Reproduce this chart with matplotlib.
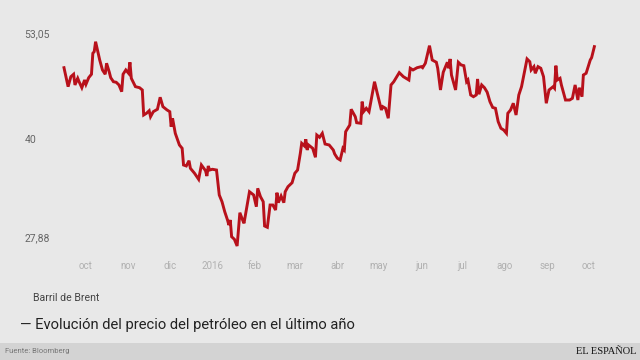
import matplotlib.pyplot as plt
import matplotlib.patches as mpatches
import pandas as pd

# Barril de Brent, dias desde el 1 de octubre de 2015 y precio en dolares
dias = [-16, -13, -11, -9, -8, -6, -5, -3, -1, 0, 2, 4, 5, 6, 7, 8, 10, 12, 14, 15,
        17, 18, 20, 22, 24, 26, 27, 29, 31, 32, 33, 36, 39, 41, 42, 44, 46, 47, 49, 52,
        54, 56, 59, 61, 62, 63, 65, 68, 70, 71, 73, 75, 76, 79, 82, 84, 87, 88, 89, 90,
        92, 95, 97, 99, 101, 103, 104, 105, 106, 108, 110, 112, 114, 115, 119, 122, 124, 125, 127, 129,
        130, 132, 134, 136, 138, 139, 140, 142, 144, 145, 147, 150, 152, 154, 156, 157, 159, 160, 161, 162,
        165, 167, 168, 170, 172, 174, 177, 180, 181, 183, 185, 187, 188, 189, 192, 193, 196, 197, 200, 201,
        202, 204, 206, 210, 212, 215, 216, 218, 220, 222, 224, 228, 231, 235, 236, 238, 241, 244, 245, 247,
        250, 252, 255, 256, 258, 260, 263, 264, 265, 266, 269, 271, 273, 275, 277, 278, 280, 282, 284, 285,
        286, 288, 290, 292, 294, 296, 298, 300, 302, 304, 306, 307, 309, 311, 313, 315, 317, 321, 323, 324,
        326, 327, 329, 331, 333, 335, 337, 340, 341, 342, 343, 345, 346, 348, 349, 352, 354, 356, 358, 359,
        361, 362, 364, 367, 368, 370]
precio = [48.80, 46.46, 47.69, 47.99, 46.67, 47.49, 47.07, 46.33, 47.28, 46.75, 47.57, 47.99, 50.58, 50.78, 52.01, 51.27, 49.75, 48.52, 47.99, 49.35,
          48.23, 47.57, 47.07, 47.00, 46.67, 45.84, 47.99, 48.52, 48.11, 49.47, 47.49, 46.46, 46.33, 46.05, 42.96, 43.17, 43.49, 42.75, 43.37, 43.67,
          45.15, 43.99, 43.58, 43.37, 41.52, 42.56, 40.70, 39.26, 38.85, 36.79, 36.67, 37.32, 36.38, 35.77, 35.02, 36.79, 36.09, 35.43, 36.67, 36.17,
          36.26, 36.17, 33.09, 32.26, 31.02, 30.00, 29.38, 30.00, 27.94, 27.62, 26.79, 30.90, 30.00, 29.59, 33.49, 33.09, 31.64, 33.91, 32.88, 32.26,
          29.26, 29.10, 31.85, 31.85, 31.23, 33.37, 32.14, 32.96, 32.14, 33.49, 34.11, 34.60, 35.77, 36.17, 38.23, 39.47, 39.14, 39.96, 38.64, 39.26,
          38.85, 37.74, 40.49, 40.21, 40.70, 39.38, 39.26, 38.64, 38.15, 37.62, 37.41, 38.85, 38.64, 40.90, 41.73, 43.67, 42.75, 42.01, 41.94, 44.61,
          43.37, 43.79, 43.37, 47.07, 45.64, 43.58, 43.99, 43.79, 42.56, 46.67, 47.07, 48.19, 47.69, 47.28, 48.73, 48.52, 48.80, 48.93, 48.80, 49.35,
          51.52, 49.75, 49.47, 48.73, 46.05, 48.23, 49.47, 48.73, 49.88, 47.90, 46.05, 49.47, 49.14, 49.05, 47.07, 47.28, 45.43, 45.22, 45.43, 47.41,
          45.52, 46.67, 46.33, 45.77, 44.61, 43.89, 43.79, 42.14, 41.32, 41.11, 40.70, 43.17, 43.58, 44.41, 42.96, 45.43, 46.46, 49.88, 49.54, 48.52,
          48.93, 48.11, 48.93, 48.73, 47.69, 44.41, 46.05, 46.46, 46.26, 49.05, 47.28, 47.49, 46.67, 45.43, 44.81, 44.81, 45.02, 46.67, 44.81, 46.33,
          45.22, 47.90, 48.11, 49.75, 50.04, 51.40]

meses = ['oct', 'nov', 'dic', '2016', 'feb', 'mar', 'abr', 'may', 'jun', 'jul', 'ago', 'sep', 'oct']
y_ticks = [27.88, 40, 53.05]
y_labels = ['27,88', '40', '53,05']

inicio = pd.Timestamp('2015-10-01')
fechas = inicio + pd.to_timedelta(dias, unit='D')
pos_meses = pd.date_range('2015-10-01', '2016-10-01', freq='MS')

fondo = '#e8e8e8'
fig = plt.figure(figsize=(6.4, 3.6), dpi=100, facecolor=fondo)
ax = fig.add_axes([60 / 640, 105 / 360, 540 / 640, 230 / 360])
ax.set_facecolor(fondo)

ax.plot(fechas, precio, color='#b8111b', lw=2.1, solid_joinstyle='miter')

ax.set_xlim(inicio + pd.Timedelta(days=-18.9), inicio + pd.Timedelta(days=374.1))
ax.set_ylim(25.68, 54.07)

ax.set_yticks(y_ticks)
ax.set_yticklabels(y_labels, fontsize=7.5, color='#666666', family=['Roboto', 'DejaVu Sans'])
for lbl in ax.get_yticklabels():
    lbl.set_horizontalalignment('left')
ax.tick_params(axis='y', length=0, pad=25.5)

ax.set_xticks(pos_meses)
ax.set_xticklabels(meses, fontsize=7, color='#b0b0b0', family=['Roboto', 'DejaVu Sans'])
ax.tick_params(axis='x', length=0, pad=4)

for s in ax.spines.values():
    s.set_visible(False)

fig.text(33 / 640, 1 - 298 / 360, 'Barril de Brent', fontsize=7.6, color='#444444',
         va='center', ha='left', family=['Roboto', 'DejaVu Sans'])
fig.text(20 / 640, 1 - 325 / 360, '— Evolución del precio del petróleo en el último año', fontsize=10.6,
         color='#222222', va='center', ha='left', family=['Roboto', 'DejaVu Sans'])

# barra inferior
fig.patches.append(mpatches.Rectangle((0, 0), 1, 17 / 360, transform=fig.transFigure,
                                      facecolor='#d3d3d3', edgecolor='none'))
fig.text(5 / 640, 8.5 / 360, 'Fuente: Bloomberg', fontsize=5.5, color='#777777', va='center', ha='left',
         family=['Roboto', 'DejaVu Sans'])
fig.text(636 / 640, 8.5 / 360, 'EL ESPAÑOL', fontsize=7.5, color='#111111', va='center', ha='right',
         family=['Liberation Serif', 'DejaVu Serif'])

fig.savefig('out.png', dpi=100, facecolor=fondo)
